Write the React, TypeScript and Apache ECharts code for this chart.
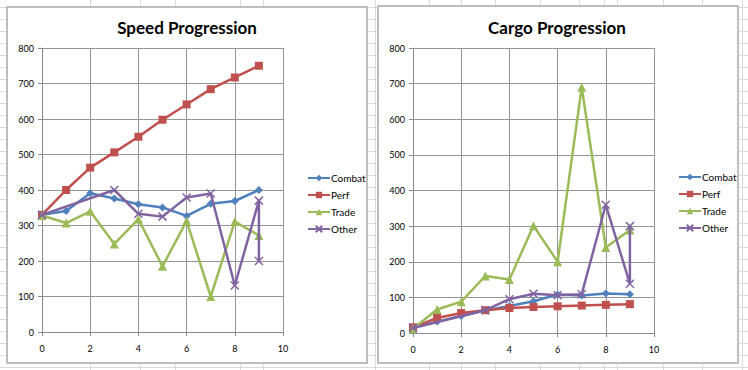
import React, { useEffect, useRef } from "react";
import * as echarts from "echarts";

const seriesNames = ["Combat", "Perf", "Trade", "Other"];
const xTicks = [0, 10, 2];
const yTicks = [0, 800, 100];

const speedCombat = [[0, 330], [1, 341], [2, 391], [3, 376], [4, 360], [5, 351], [6, 327], [7, 361], [8, 369], [9, 400]];
const speedPerf = [[0, 330], [1, 400], [2, 463], [3, 506], [4, 550], [5, 598], [6, 641], [7, 684], [8, 717], [9, 750]];
const speedTrade = [[0, 328], [1, 307], [2, 340], [3, 248], [4, 318], [5, 185], [6, 313], [7, 100], [8, 311], [9, 272]];
const speedOther = [[0, 330], [3, 400], [4, 333], [5, 325], [6, 379], [7, 390], [8, 131], [9, 370], [9, 200]];

const cargoCombat = [[0, 15], [1, 32], [2, 48], [3, 63], [4, 76], [5, 89], [6, 108], [7, 105], [8, 111], [9, 109]];
const cargoPerf = [[0, 16], [1, 42], [2, 56], [3, 64], [4, 70], [5, 73], [6, 75], [7, 77], [8, 79], [9, 81]];
const cargoTrade = [[0, 12], [1, 66], [2, 88], [3, 160], [4, 150], [5, 301], [6, 200], [7, 690], [8, 240], [9, 289]];
const cargoOther = [[0, 14], [3, 64], [4, 95], [5, 110], [6, 106], [7, 109], [8, 360], [9, 138], [9, 300]];

const titles = ["Speed Progression", "Cargo Progression"];

const COLORS = ["#4F81BD", "#C0504D", "#9BBB59", "#8064A2"];
const SYMBOLS = ["diamond", "rect", "triangle", "path://M0,0L10,10M10,0L0,10"];
const SIZES = [8, 8, 9, 8];
const FONT = "Lato, 'Open Sans', sans-serif";

export default function App() {
  const ref = useRef<HTMLDivElement>(null);
  useEffect(() => {
    if (!ref.current) return;
    const chart = echarts.init(ref.current, null, { renderer: "svg" });

    const grids = [
      { left: 42, top: 48, width: 241, height: 284 },
      { left: 413, top: 48, width: 241, height: 285 },
    ];
    const frames = [
      { x: 7, y: 7, w: 360, h: 356 },
      { x: 378, y: 6, w: 360, h: 357 },
    ];

    const bg: any[] = [];
    const cols = [90, 140, 175, 240, 263, 375, 429, 461, 495, 540, 579, 604, 617, 663, 702, 742];
    cols.forEach((cx) =>
      bg.push({ type: "line", z: -20, shape: { x1: cx + 0.5, y1: 0, x2: cx + 0.5, y2: 370 }, style: { stroke: "#d8dadc", lineWidth: 1 } })
    );
    for (let ry = 7; ry < 370; ry += 12) {
      bg.push({ type: "line", z: -20, shape: { x1: 0, y1: ry + 0.5, x2: 748, y2: ry + 0.5 }, style: { stroke: "#d8dadc", lineWidth: 1 } });
    }
    frames.forEach((f) =>
      bg.push({ type: "rect", z: -10, shape: { x: f.x, y: f.y, width: f.w, height: f.h }, style: { fill: "#ffffff", stroke: "#bdbdbd", lineWidth: 2 } })
    );
    titles.forEach((t, i) =>
      bg.push({
        type: "text",
        z: 5,
        x: frames[i].x + 180 + (i === 0 ? 0 : -1),
        y: 27,
        style: { text: t, font: `bold 17px ${FONT}`, fill: "#000", align: "center", verticalAlign: "middle" },
      })
    );

    const axisCommon = {
      type: "value",
      axisLine: { show: true, lineStyle: { color: "#8c8c8c", width: 1 } },
      axisTick: { show: true, length: 4, lineStyle: { color: "#8c8c8c" } },
      splitLine: { show: true, lineStyle: { color: "#959595", width: 1 } },
    };
    const xAxes = [0, 1].map((i) => ({
      ...axisCommon,
      gridIndex: i,
      min: xTicks[0],
      max: xTicks[1],
      interval: xTicks[2],
      axisLabel: { fontSize: 9, color: "#000", margin: 12, fontFamily: FONT },
    }));
    const yAxes = [0, 1].map((i) => ({
      ...axisCommon,
      gridIndex: i,
      min: yTicks[0],
      max: yTicks[1],
      interval: yTicks[2],
      axisLabel: { fontSize: 9, color: "#000", margin: 8, fontFamily: FONT },
    }));

    const allData = [
      [speedCombat, speedPerf, speedTrade, speedOther],
      [cargoCombat, cargoPerf, cargoTrade, cargoOther],
    ];
    const series: any[] = [];
    allData.forEach((set, gi) =>
      set.forEach((d, si) =>
        series.push({
          type: "line",
          name: seriesNames[si],
          xAxisIndex: gi,
          yAxisIndex: gi,
          data: d,
          symbol: SYMBOLS[si],
          symbolSize: SIZES[si],
          showSymbol: true,
          lineStyle: { color: COLORS[si], width: 2.5 },
          itemStyle: {
            color: COLORS[si],
            borderColor: COLORS[si],
            borderWidth: si === 3 ? 1.5 : 0,
          },
          z: 2 + si,
        })
      )
    );

    const legends = [
      { left: 302, top: 168 },
      { left: 673, top: 167 },
    ].map((p) => ({
      ...p,
      orient: "vertical",
      data: seriesNames,
      itemWidth: 22,
      itemHeight: 8,
      itemGap: 7,
      textStyle: { fontSize: 10, color: "#000", fontFamily: FONT, padding: [0, 0, 0, -4] },
    }));

    chart.setOption({
      animation: false,
      backgroundColor: "#ffffff",
      graphic: bg,
      grid: grids,
      xAxis: xAxes,
      yAxis: yAxes,
      legend: legends,
      series,
    });
    return () => chart.dispose();
  }, []);
  return <div ref={ref} style={{ position: "fixed", left: 0, top: 0, width: 748, height: 370 }} />;
}
